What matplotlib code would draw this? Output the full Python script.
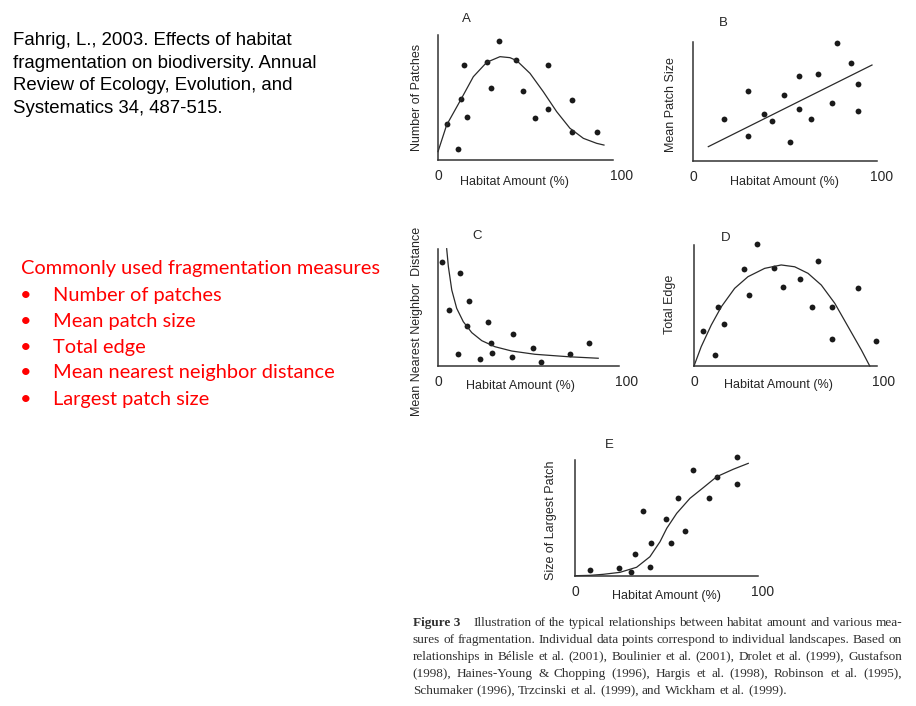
import matplotlib
matplotlib.use("Agg")
import matplotlib.pyplot as plt

W, H = 916, 706

# ---------------- data ----------------
# Panel A: Number of patches
a_x = [4.7, 11.0, 12.3, 14.3, 15.6, 26.5, 28.8, 33.2, 42.2, 46.2, 52.9, 59.6, 59.6, 72.8, 72.8, 86.3]
a_y = [28.5, 8.4, 48.4, 75.7, 33.9, 78.6, 57.7, 94.9, 79.7, 55.3, 33.3, 75.7, 40.8, 47.8, 21.8, 22.3]
a_cx = [0, 4.7, 12.3, 19.2, 26.5, 33.7, 39.1, 42.8, 50, 57.2, 64.5, 71.7, 79, 86.2, 90.2]
a_cy = [6.3, 27.7, 47.8, 66.5, 78.1, 82.6, 81.8, 79.4, 69.2, 54.5, 38.4, 25.1, 17, 13, 11.6]

# Panel B: Mean patch size
b_x = [16.2, 29.1, 29.1, 37.6, 42.0, 48.0, 51.3, 56.2, 56.2, 62.4, 66.3, 73.4, 76.0, 83.6, 87.1, 87.5]
b_y = [34.8, 58.8, 20.5, 39.5, 33.1, 55.5, 16.0, 71.4, 43.4, 34.8, 72.6, 48.7, 99.2, 81.8, 64.5, 41.8]
b_lx = [8.1, 94.7]
b_ly = [11.8, 80.4]

# Panel C: Mean nearest neighbor distance
c_x = [2.0, 11.5, 16.3, 5.8, 26.3, 15.4, 39.7, 28.1, 50.5, 80.0, 10.8, 28.6, 22.4, 39.4, 69.8, 54.6]
c_y = [89.1, 79.9, 55.8, 47.9, 37.5, 34.4, 27.2, 19.8, 15.5, 19.2, 9.8, 10.9, 6.0, 7.5, 10.3, 3.2]
c_cx = [4.6, 5.5, 7.3, 9.9, 13.4, 17.9, 23.2, 30.2, 39.1, 51.4, 69.1, 84.9]
c_cy = [100.5, 85.1, 65, 49.3, 37.8, 28.4, 21.5, 16.3, 12.6, 9.8, 7.7, 6.4]

# Panel D: Total edge
d_x = [33.0, 65.1, 26.5, 41.9, 55.6, 46.7, 86.3, 28.8, 12.5, 62.3, 72.5, 15.6, 4.7, 72.5, 95.9, 11.1]
d_y = [100.6, 87.0, 79.9, 80.7, 72.1, 65.5, 64.7, 58.9, 49.0, 48.5, 48.8, 34.5, 29.2, 22.6, 20.4, 9.3]
d_cx = [0, 3.8, 9.1, 14.4, 21.4, 28.4, 37.2, 45.9, 53, 60, 67, 74.1, 81.1, 88.1, 92.5]
d_cy = [0, 16, 33.9, 49, 64.2, 73.8, 80.7, 83.5, 82, 76.6, 66.9, 51.8, 32.5, 13.2, 0]

# Panel E: Size of largest patch
e_x = [86.5, 63.0, 75.7, 86.3, 55.0, 71.7, 36.3, 48.7, 58.6, 40.6, 51.1, 32.2, 8.0, 23.3, 40.0, 30.1]
e_y = [102.3, 91.6, 85.6, 79.0, 67.2, 67.2, 55.7, 49.3, 38.6, 28.5, 28.0, 18.5, 5.2, 6.7, 7.8, 2.9]
e_cx = [0, 8, 15.1, 24, 32.9, 40, 45.4, 49, 54.3, 61.4, 68.5, 75.7, 84.5, 92.5]
e_cy = [0, 0.3, 1.2, 2.9, 7.3, 16.4, 29.4, 41, 53.9, 66.9, 76.1, 85.6, 92, 97.1]

x_tick_labels = ["0", "100"]
panel_letters = ["A", "B", "C", "D", "E"]
y_labels = ["Number of Patches", "Mean Patch Size", "Mean Nearest Neighbor  Distance",
            "Total Edge", "Size of Largest Patch"]
x_label = "Habitat Amount (%)"

citation = ["Fahrig, L., 2003. Effects of habitat",
            "fragmentation on biodiversity. Annual",
            "Review of Ecology, Evolution, and",
            "Systematics 34, 487-515."]
measures_title = "Commonly used fragmentation measures"
measures = ["Number of patches", "Mean patch size", "Total edge",
            "Mean nearest neighbor distance", "Largest patch size"]
caption_lines = [
    "Illustration of the typical relationships between habitat amount and various mea-",
    "sures of fragmentation. Individual data points correspond to individual landscapes. Based on",
    "relationships in Bélisle et al. (2001), Boulinier et al. (2001), Drolet et al. (1999), Gustafson",
    "(1998), Haines-Young & Chopping (1996), Hargis et al. (1998), Robinson et al. (1995),",
    "Schumaker (1996), Trzcinski et al. (1999), and Wickham et al. (1999).",
]

# ---------------- figure ----------------
fig = plt.figure(figsize=(W / 100, H / 100), dpi=100)
fig.patch.set_facecolor("white")
renderer = fig.canvas.get_renderer()

INK = "#262626"
SANS = ["Liberation Sans", "DejaVu Sans"]


def fx(px):
    return px / W


def fy(py):
    return 1 - py / H


def twidth(s, **kw):
    t = fig.text(0, 0, s, **kw)
    w = t.get_window_extent(renderer).width
    t.remove()
    return w


def make_axes(x0, x100, top, bottom, xend):
    ax = fig.add_axes([fx(x0), fy(bottom), (x100 - x0) / W, (bottom - top) / H])
    ax.set_xlim(0, 100)
    ax.set_ylim(0, 100)
    ax.patch.set_alpha(0)
    for s in ("top", "right"):
        ax.spines[s].set_visible(False)
    for s in ("left", "bottom"):
        ax.spines[s].set_color("#333333")
        ax.spines[s].set_linewidth(1.1)
    ax.spines["bottom"].set_bounds(0, xend)
    ax.set_yticks([])
    ax.set_xticks([0, 100])
    ax.set_xticklabels(x_tick_labels)
    ax.tick_params(axis="x", length=0, pad=6.5, labelsize=10, labelcolor=INK)
    for lab in ax.get_xticklabels():
        lab.set_family(SANS)
    return ax


def dots(ax, x, y):
    ax.plot(x, y, "o", color="#1a1a1a", markersize=4.2, markeredgewidth=0, clip_on=False)


def curve(ax, x, y):
    ax.plot(x, y, "-", color="#2a2a2a", linewidth=0.9, clip_on=False, solid_joinstyle="round")


axA = make_axes(438, 622, 35, 159.5, 95)
dots(axA, a_x, a_y)
curve(axA, a_cx, a_cy)

axB = make_axes(693, 882, 41.7, 160.7, 97.2)
dots(axB, b_x, b_y)
curve(axB, b_lx, b_ly)

axC = make_axes(438, 626.7, 249.3, 365.7, 96)
dots(axC, c_x, c_y)
curve(axC, c_cx, c_cy)

axD = make_axes(694, 884, 245, 366, 96.2)
dots(axD, d_x, d_y)
curve(axD, d_cx, d_cy)

axE = make_axes(575, 762.3, 460, 575.7, 97.5)
dots(axE, e_x, e_y)
curve(axE, e_cx, e_cy)

# panel letters
letter_pos = [(466.7, 19.5), (723.3, 23), (476.7, 236.5), (726, 238), (609.3, 445)]
for s, (px, py) in zip(panel_letters, letter_pos):
    fig.text(fx(px), fy(py), s, ha="center", va="center", fontsize=9.5, family=SANS, color=INK)

# y labels
ylab_pos = [(416.7, 97.5), (670.7, 105), (416.7, 321), (670, 304.2), (550.7, 520)]
for s, (px, py) in zip(y_labels, ylab_pos):
    fig.text(fx(px), fy(py), s, ha="center", va="center", rotation=90,
             fontsize=9, family=SANS, color=INK)

# x labels
xlab_pos = [(514.3, 181.7), (784.2, 181.7), (520.2, 385.7), (778, 385), (666.3, 595.7)]
for (px, py) in xlab_pos:
    fig.text(fx(px), fy(py), x_label, ha="center", va="center",
             fontsize=9, family=SANS, color=INK)

# ---------------- citation (black, top left) ----------------
cfs = 12.0
cfs *= 306 / twidth(citation[1], fontsize=cfs, family=SANS)
for i, line in enumerate(citation):
    fig.text(fx(12.7), fy(40.7 + i * 22.6), line, ha="left", va="center",
             fontsize=cfs, family=SANS, color="black")

# ---------------- red list ----------------
RED_F = ["Lato", "DejaVu Sans"]
rfs = 15.0
rfs *= 360 / twidth(measures_title, fontsize=rfs, family=RED_F)
fig.text(fx(20.7), fy(268.3), measures_title, ha="left", va="center",
         fontsize=rfs, family=RED_F, color="#ff0000")
for i, item in enumerate(measures):
    yy = 295 + i * 26
    fig.text(fx(26), fy(yy), "\u2022", ha="center", va="center",
             fontsize=rfs, family=RED_F, color="#ff0000")
    fig.text(fx(52.7), fy(yy), item, ha="left", va="center",
             fontsize=rfs, family=RED_F, color="#ff0000")

# ---------------- caption (justified serif text) ----------------
SERIF = ["Liberation Serif", "DejaVu Serif"]
CAP_COL = "#303030"
left, right = 412.7, 902.0
ffs = 10.0
ffs *= (right - left) / twidth(caption_lines[1], fontsize=ffs, family=SERIF)
line_y = [623.3, 640.3, 657.3, 674.3, 691.0]

for i, line in enumerate(caption_lines):
    yy = fy(line_y[i])
    x_start = left
    if i == 0:
        t = fig.text(fx(left), yy, "Figure 3", ha="left", va="center", fontsize=ffs,
                     family=SERIF, weight="bold", color=CAP_COL)
        x_start = left + t.get_window_extent(renderer).width + 13
    words = line.split(" ")
    widths = [twidth(w, fontsize=ffs, family=SERIF) for w in words]
    if i < len(caption_lines) - 1:
        gap = (right - x_start - sum(widths)) / (len(words) - 1)
    else:
        gap = twidth("a b", fontsize=ffs, family=SERIF) - twidth("ab", fontsize=ffs, family=SERIF)
    x = x_start
    for w, wd in zip(words, widths):
        fig.text(fx(x), yy, w, ha="left", va="center", fontsize=ffs, family=SERIF, color=CAP_COL)
        x += wd + gap

fig.savefig("out.png", dpi=100, facecolor="white")
